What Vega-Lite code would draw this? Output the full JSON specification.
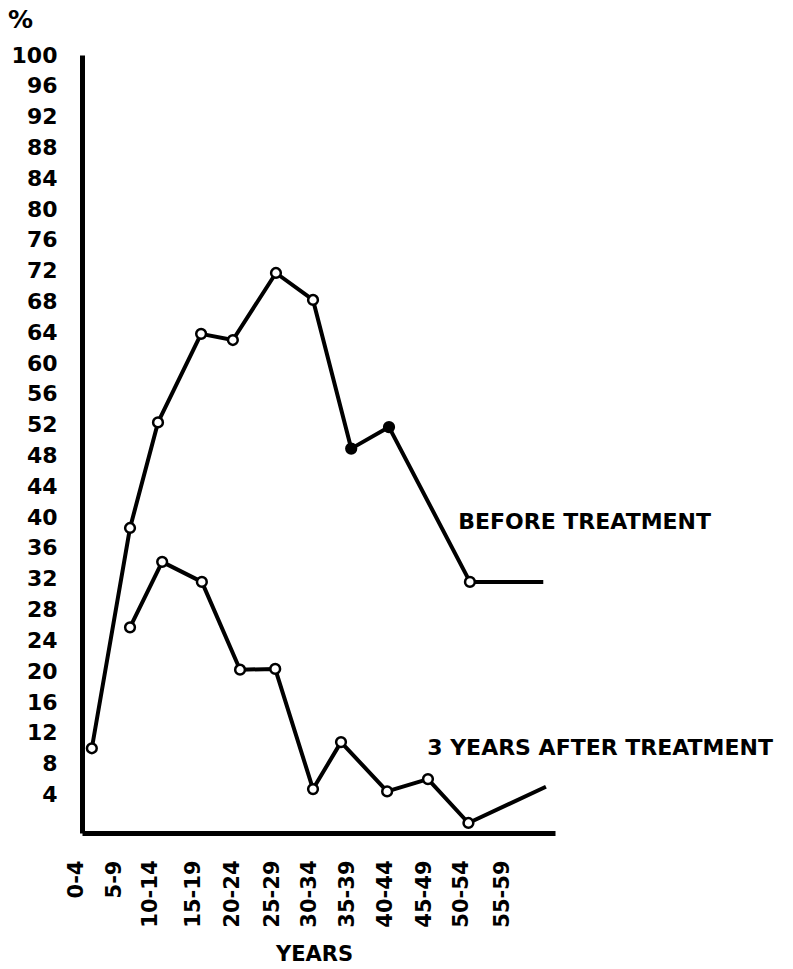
{
  "$schema": "https://vega.github.io/schema/vega-lite/v6.json",
  "width": 473,
  "height": 778,
  "autosize": {"type": "none"},
  "padding": {"left": 82, "top": 55, "right": 238, "bottom": 136},
  "background": "white",
  "config": {"view": {"stroke": null}, "font": "DejaVu Sans"},
  "datasets": {
    "series": [
      {"series": "before", "group": "0-4", "pos": 0.11, "value": 10.0},
      {"series": "before", "group": "5-9", "pos": 1.12, "value": 38.6},
      {"series": "before", "group": "10-14", "pos": 1.86, "value": 52.3},
      {"series": "before", "group": "15-19", "pos": 3.0, "value": 63.8},
      {"series": "before", "group": "20-24", "pos": 3.84, "value": 63.0},
      {"series": "before", "group": "25-29", "pos": 4.98, "value": 71.7},
      {"series": "before", "group": "30-34", "pos": 5.96, "value": 68.2},
      {"series": "before", "group": "35-39", "pos": 6.97, "value": 48.9},
      {"series": "before", "group": "40-44", "pos": 7.97, "value": 51.7},
      {"series": "before", "group": "50-54", "pos": 10.11, "value": 31.6},
      {"series": "before", "group": null, "pos": 12.05, "value": 31.6},
      {"series": "after", "group": "5-9", "pos": 1.12, "value": 25.7},
      {"series": "after", "group": "10-14", "pos": 1.97, "value": 34.2},
      {"series": "after", "group": "15-19", "pos": 3.02, "value": 31.6},
      {"series": "after", "group": "20-24", "pos": 4.03, "value": 20.2},
      {"series": "after", "group": "25-29", "pos": 4.96, "value": 20.3},
      {"series": "after", "group": "30-34", "pos": 5.96, "value": 4.7},
      {"series": "after", "group": "35-39", "pos": 6.7, "value": 10.8},
      {"series": "after", "group": "40-44", "pos": 7.92, "value": 4.4},
      {"series": "after", "group": "45-49", "pos": 9.0, "value": 6.0},
      {"series": "after", "group": "50-54", "pos": 10.07, "value": 0.3},
      {"series": "after", "group": null, "pos": 12.12, "value": 5.0}
    ],
    "notes": [
      {"label": "BEFORE TREATMENT", "pos": 9.8, "value": 39.4},
      {"label": "3 YEARS AFTER TREATMENT", "pos": 8.98, "value": 10.0}
    ]
  },
  "encoding": {
    "x": {
      "field": "pos",
      "type": "quantitative",
      "scale": {"domain": [-0.15, 12.36], "nice": false, "zero": false},
      "axis": {
        "values": [-0.15, 0.72, 1.67, 2.79, 3.84, 4.9, 5.88, 6.86, 7.89, 8.92, 9.9, 10.96],
        "labelExpr": "['0-4','5-9','10-14','15-19','20-24','25-29','30-34','35-39','40-44','45-49','50-54','55-59'][round(datum.value)]",
        "labelAngle": -90,
        "labelFont": "DejaVu Sans",
        "labelFontWeight": "bold",
        "labelFontSize": 21,
        "labelColor": "black",
        "labelPadding": 27,
        "labelFlush": false,
        "labelOverlap": false,
        "labelOffset": {"condition": {"test": "datum.value < 0", "value": -6}, "value": 0},
        "ticks": false,
        "tickSize": 0,
        "grid": false,
        "domainColor": "black",
        "domainWidth": 5,
        "title": "YEARS",
        "titleFont": "DejaVu Sans",
        "titleFontSize": 21,
        "titleFontWeight": "bold",
        "titleColor": "black",
        "titleX": 232,
        "titleY": 121,
        "titleAlign": "center",
        "titleBaseline": "middle"
      }
    },
    "y": {
      "field": "value",
      "type": "quantitative",
      "scale": {"domain": [-1, 100], "nice": false, "zero": false},
      "axis": {
        "values": [4, 8, 12, 16, 20, 24, 28, 32, 36, 40, 44, 48, 52, 56, 60, 64, 68, 72, 76, 80, 84, 88, 92, 96, 100],
        "labelFont": "DejaVu Sans",
        "labelFontWeight": "bold",
        "labelFontSize": 22,
        "labelColor": "black",
        "labelPadding": 25,
        "labelFlush": false,
        "labelOverlap": false,
        "ticks": false,
        "tickSize": 0,
        "grid": false,
        "domainColor": "black",
        "domainWidth": 5,
        "title": "%",
        "titleAngle": 0,
        "titleX": -62,
        "titleY": -36,
        "titleFont": "DejaVu Sans",
        "titleFontSize": 25,
        "titleFontWeight": "bold",
        "titleColor": "black",
        "titleAlign": "center",
        "titleBaseline": "middle"
      }
    }
  },
  "layer": [
    {
      "data": {"name": "series"},
      "mark": {"type": "line", "color": "black", "strokeWidth": 4, "strokeJoin": "round"},
      "encoding": {"detail": {"field": "series"}}
    },
    {
      "data": {"name": "series"},
      "transform": [{"filter": "datum.group != null"}],
      "mark": {"type": "point", "shape": "circle", "filled": true, "size": 95, "stroke": "black", "strokeWidth": 2.5, "opacity": 1},
      "encoding": {
        "fill": {
          "condition": {"test": "datum.series == 'before' && (datum.group == '35-39' || datum.group == '40-44')", "value": "black"},
          "value": "white"
        }
      }
    },
    {
      "data": {"name": "notes"},
      "mark": {"type": "text", "align": "left", "baseline": "middle", "fontSize": 22, "fontWeight": "bold", "font": "DejaVu Sans", "color": "black"},
      "encoding": {"text": {"field": "label"}}
    }
  ]
}
